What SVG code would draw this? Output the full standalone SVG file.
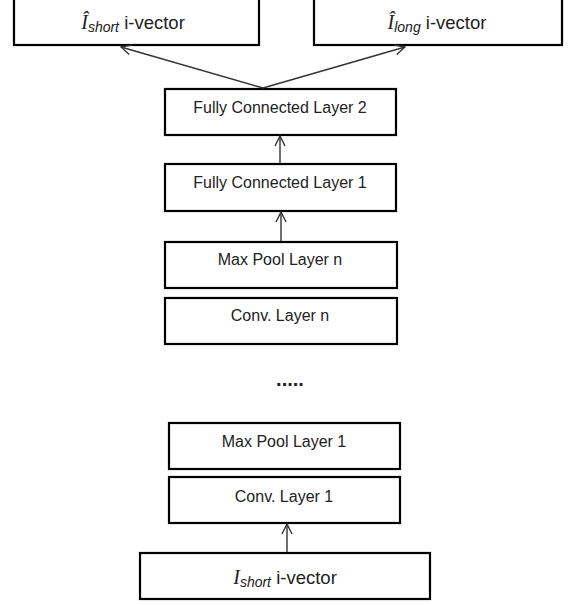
<svg xmlns="http://www.w3.org/2000/svg" width="569" height="605" viewBox="0 0 569 605">
<style>
.box{fill:#fff;stroke:#000;stroke-width:2.2}
.lbl{font-family:"Liberation Sans",Arial,sans-serif;font-size:16px;fill:#222;text-anchor:middle}
.big{font-family:"Liberation Sans",Arial,sans-serif;font-size:18.5px;fill:#222;text-anchor:middle}
.mi{font-family:"Liberation Serif","Times New Roman",serif;font-style:italic;font-size:20px}
.sub{font-style:italic;font-size:14px}
.conn{stroke:#333;stroke-width:1.4;fill:none}
</style>
<defs>
<marker id="ah" viewBox="0 0 12 12" refX="11" refY="6" markerWidth="12" markerHeight="12" markerUnits="userSpaceOnUse" orient="auto">
<path d="M1,1 L11,6 L1,11" fill="none" stroke="#333" stroke-width="1.4"/>
</marker>
</defs>
<rect width="569" height="605" fill="#fff"/>
<g id="out-short">
<rect class="box" x="14" y="-4" width="245" height="49"/>
<text class="big" x="133" y="29"><tspan class="mi">Î</tspan><tspan class="sub" dy="3">short</tspan><tspan dy="-3"> i-vector</tspan></text>
</g>
<g id="out-long">
<rect class="box" x="314" y="-4" width="248" height="49"/>
<text class="big" x="437" y="29"><tspan class="mi">Î</tspan><tspan class="sub" dy="3">long</tspan><tspan dy="-3"> i-vector</tspan></text>
</g>
<g id="fc2">
<rect class="box" x="165" y="89" width="231" height="46"/>
<text class="lbl" x="280" y="113">Fully Connected Layer 2</text>
</g>
<g id="fc1">
<rect class="box" x="165" y="164" width="231" height="47"/>
<text class="lbl" x="280" y="188">Fully Connected Layer 1</text>
</g>
<g id="maxpool-n">
<rect class="box" x="165" y="242" width="232" height="46"/>
<text class="lbl" x="280" y="265">Max Pool Layer n</text>
</g>
<g id="conv-n">
<rect class="box" x="165" y="298" width="232" height="46"/>
<text class="lbl" x="280" y="321">Conv. Layer n</text>
</g>
<g id="dots">
<text x="290" y="386" font-family="Liberation Sans,Arial,sans-serif" font-size="20" font-weight="bold" fill="#222" text-anchor="middle">.....</text>
</g>
<g id="maxpool-1">
<rect class="box" x="169" y="423" width="231" height="46"/>
<text class="lbl" x="284" y="447">Max Pool Layer 1</text>
</g>
<g id="conv-1">
<rect class="box" x="169" y="477" width="231" height="46"/>
<text class="lbl" x="284" y="502">Conv. Layer 1</text>
</g>
<g id="input">
<rect class="box" x="140" y="553" width="290" height="46"/>
<text class="big" x="285" y="584"><tspan class="mi">I</tspan><tspan class="sub" dy="3">short</tspan><tspan dy="-3"> i-vector</tspan></text>
</g>
<g id="connectors">
<line class="conn" x1="287" y1="552" x2="287" y2="524" marker-end="url(#ah)"/>
<line class="conn" x1="281" y1="241" x2="281" y2="212" marker-end="url(#ah)"/>
<line class="conn" x1="280" y1="163" x2="280" y2="136" marker-end="url(#ah)"/>
<line class="conn" x1="263" y1="88" x2="121" y2="47" marker-end="url(#ah)"/>
<line class="conn" x1="263" y1="88" x2="405" y2="47" marker-end="url(#ah)"/>
</g>
</svg>
